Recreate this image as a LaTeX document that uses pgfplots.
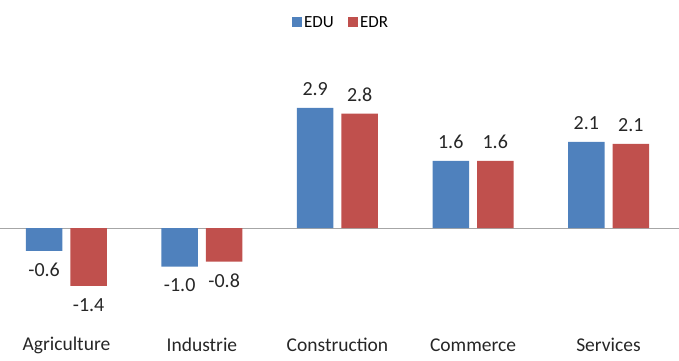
\documentclass[border=0pt]{standalone}
\usepackage{pgfplots}
\pgfplotsset{compat=1.18}
\usepackage{fontspec}
\setmainfont{Carlito}
\definecolor{cblue}{HTML}{4F81BD}
\definecolor{cred}{HTML}{C0504D}
\definecolor{ctext}{HTML}{262626}
\begin{document}
\begin{tikzpicture}
\begin{axis}[
  scale only axis, width=679pt, height=360pt,
  xmin=-0.49, xmax=4.52, ymin=-3.188, ymax=5.507,
  ybar=8pt, bar width=36.5pt,
  axis line style={draw=none},
  major tick length=0pt,
  xtick={0,1,2,3,4},
  xticklabels={Agriculture,Industrie,Construction,Commerce,Services},
  xticklabel style={anchor=center, yshift=15pt, font=\fontsize{19.5}{23}\selectfont, text=ctext},
  ytick=\empty,
  extra y ticks={0}, extra y tick labels={},
  extra y tick style={grid=major, major grid style={black!35, line width=0.8pt}},
  /pgf/number format/assume math mode=true,
  point meta=explicit,
  nodes near coords={\pgfmathprintnumber[fixed,fixed zerofill,precision=1]{\pgfplotspointmeta}},
  every node near coord/.append style={font=\fontsize{20}{24}\selectfont, text=ctext, inner sep=12pt},
  legend style={at={(0.502,1)}, anchor=north, yshift=-12pt, draw=none, fill=none,
    legend columns=2, font=\fontsize{17}{20}\selectfont,
    /tikz/every even column/.append style={column sep=12pt}},
  legend cell align=left,
]
\addplot[fill=cblue, draw=none, legend image code/.code={\fill[cblue] (0pt,-5pt) rectangle (10.5pt,5.5pt);}]
  coordinates {(0,-0.55) [-0.6] (1,-0.93) [-1.0] (2,2.9) [2.9] (3,1.62) [1.6] (4,2.08) [2.1]};
\addplot[fill=cred, draw=none, legend image code/.code={\fill[cred] (0pt,-5pt) rectangle (10.5pt,5.5pt);}]
  coordinates {(0,-1.4) [-1.4] (1,-0.81) [-0.8] (2,2.76) [2.8] (3,1.62) [1.6] (4,2.03) [2.1]};
\legend{EDU,EDR}
\end{axis}
\pgfresetboundingbox
\useasboundingbox (current axis.south west) rectangle (current axis.north east);
\end{tikzpicture}
\end{document}
